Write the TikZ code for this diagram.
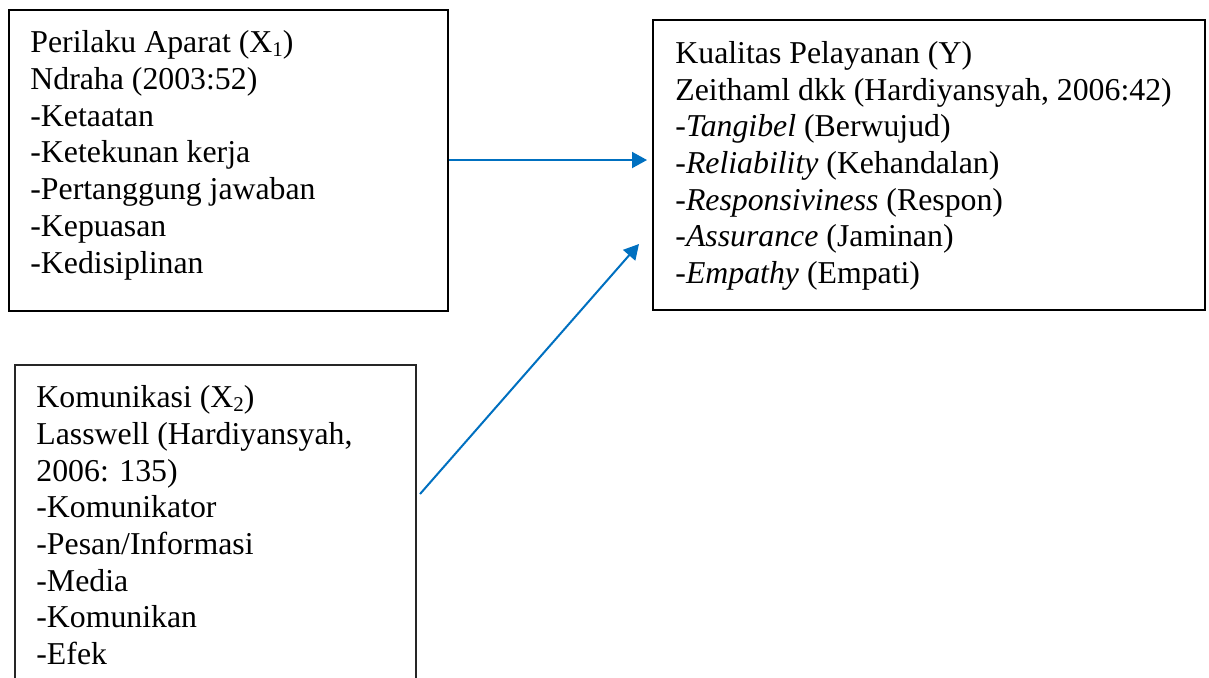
\documentclass[tikz,border=0pt]{standalone}
\usepackage{fontspec}
\setmainfont{Liberation Serif}
\usetikzlibrary{arrows.meta}
\definecolor{arrowblue}{HTML}{0070C0}
\newcommand\mysubs[1]{\raisebox{-0.12em}{\fontsize{10.5pt}{10.5pt}\selectfont #1}}
\tikzset{
  boxnode/.style={draw=black, line width=0.9pt, rectangle, inner sep=0pt},
  txt/.style={anchor=base west, inner sep=0pt, align=left, font=\fontsize{15.9pt}{18.35pt}\selectfont},
  link/.style={draw=arrowblue, line width=1pt, -{Triangle[length=7.5pt,width=8pt]}}
}
\begin{document}
\begin{tikzpicture}[x=0.5pt,y=-0.5pt]
\useasboundingbox (0,0) rectangle (1209,677);
\node[boxnode, minimum width=219.5pt, minimum height=150.5pt] (b1) at (228.5,160.5) {};
\node[boxnode, minimum width=276pt, minimum height=145pt] (b2) at (929,165) {};
\node[boxnode, line width=0.75pt, draw=black!85, minimum width=200.5pt, minimum height=167.5pt] (b3) at (215.5,532.5) {};
% base anchor = baseline of the last line
\node[txt] (t1) at (30,273) {Perilaku Aparat (X\mysubs{1})\\Ndraha (2003:52)\\-Ketaatan\\-Ketekunan kerja\\-Pertanggung jawaban\\-Kepuasan\\-Kedisiplinan};
\node[txt] (t2) at (675,283.5) {Kualitas Pelayanan (Y)\\Zeithaml dkk (Hardiyansyah, 2006:42)\\-\textit{Tangibel} (Berwujud)\\-\textit{Reliability} (Kehandalan)\\-\textit{Responsiviness} (Respon)\\-\textit{Assurance} (Jaminan)\\-\textit{Empathy} (Empati)};
\node[txt] (t3) at (36,664.5) {Komunikasi (X\mysubs{2})\\Lasswell (Hardiyansyah,\\2006: 135)\\-Komunikator\\-Pesan/Informasi\\-Media\\-Komunikan\\-Efek};
\coordinate (e1) at (647,160);
\coordinate (s2) at (420,494);
\coordinate (e2) at (639,244);
\draw[link] (b1.east |- e1) -- (e1);
\draw[link] (s2) -- (e2);
\end{tikzpicture}
\end{document}
